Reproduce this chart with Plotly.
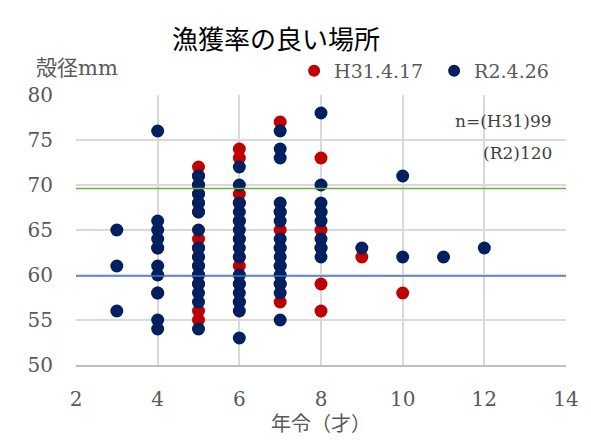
import plotly.graph_objects as go

# ---- data ----
h31_age = [4, 4,
           5, 5, 5, 5, 5, 5, 5, 5, 5, 5, 5, 5, 5, 5,
           6, 6, 6, 6, 6, 6, 6, 6, 6, 6,
           7, 7, 7, 7, 7, 7, 7,
           8, 8, 8, 8, 8, 8,
           9, 10]
h31_size = [63, 58,
            72, 71, 70, 69, 68, 67, 64, 63, 62, 61, 60, 59, 56, 55,
            74, 73, 69, 68, 66, 64, 62, 61, 59, 57,
            77, 67, 65, 63, 61, 59, 57,
            73, 67, 65, 63, 59, 56,
            62, 58]

r2_age = [3, 3, 3,
          4, 4, 4, 4, 4, 4, 4, 4, 4, 4,
          5, 5, 5, 5, 5, 5, 5, 5, 5, 5, 5, 5, 5, 5,
          6, 6, 6, 6, 6, 6, 6, 6, 6, 6, 6, 6, 6, 6, 6,
          7, 7, 7, 7, 7, 7, 7, 7, 7, 7, 7, 7, 7, 7,
          8, 8, 8, 8, 8, 8, 8, 8,
          9, 10, 10, 11, 12]
r2_size = [65, 61, 56,
           76, 66, 65, 64, 63, 61, 60, 58, 55, 54,
           71, 70, 69, 68, 67, 65, 63, 62, 61, 60, 59, 58, 57, 54,
           72, 70, 68, 67, 66, 65, 64, 63, 62, 60, 59, 58, 57, 56, 53,
           76, 74, 73, 68, 67, 66, 64, 63, 62, 61, 60, 59, 58, 55,
           78, 70, 68, 67, 66, 64, 63, 62,
           63, 71, 62, 62, 63]

series_names = ["H31.4.17", "R2.4.26"]
ref_green = 69.6
ref_blue = 59.9
x_ticks = [2, 4, 6, 8, 10, 12, 14]
y_ticks = [50, 55, 60, 65, 70, 75, 80]

title_text = "漁獲率の良い場所"
y_title = "殻径mm"
x_title = "年令（才）"
n_line1 = "n=(H31)99"
n_line2 = "(R2)120"

# ---- figure ----
FONT = "DejaVu Serif, Noto Sans CJK JP"
GRAY = "#595959"

OFF = 8  # page body offset
W, H = 591 - OFF, 443 - OFF
L, T = 76 - OFF, 95 - OFF
R, B = 23, 78
pw, ph = W - L - R, H - T - B
def px2x(p): return (p - OFF - L) / pw
def px2y(p): return (H - B - (p - OFF)) / ph

fig = go.Figure()
fig.add_trace(go.Scatter(x=h31_age, y=h31_size, mode="markers", name=series_names[0],
                         marker=dict(color="#C00000", size=13, line=dict(width=0))))
fig.add_trace(go.Scatter(x=r2_age, y=r2_size, mode="markers", name=series_names[1],
                         marker=dict(color="#002060", size=13, line=dict(width=0))))

fig.add_shape(type="line", xref="x", yref="y", x0=2, x1=14, y0=ref_green, y1=ref_green,
              line=dict(color="#70AD47", width=1.5), layer="above")
fig.add_shape(type="line", xref="x", yref="y", x0=2, x1=14, y0=ref_blue, y1=ref_blue,
              line=dict(color="#4472C4", width=1.5), layer="above")

# outer chart border (top/left visible)
fig.add_shape(type="rect", xref="paper", yref="paper",
              x0=px2x(6), x1=px2x(640), y0=px2y(480), y1=px2y(7),
              line=dict(color="#D9D9D9", width=1.5), fillcolor="rgba(0,0,0,0)", layer="below")

fig.add_annotation(text=title_text, xref="paper", yref="paper", x=px2x(277), y=px2y(40),
                   xanchor="center", yanchor="middle", showarrow=False,
                   font=dict(family=FONT, size=26, color="#000000"))
fig.add_annotation(text=y_title, xref="paper", yref="paper", x=px2x(77), y=px2y(68),
                   xanchor="center", yanchor="middle", showarrow=False,
                   font=dict(family=FONT, size=21, color=GRAY))
fig.add_annotation(text=x_title, xref="paper", yref="paper", x=px2x(322), y=px2y(424),
                   xanchor="center", yanchor="middle", showarrow=False,
                   font=dict(family=FONT, size=20, color=GRAY))
fig.add_annotation(text=n_line1, xref="paper", yref="paper", x=px2x(556), y=px2y(121),
                   xanchor="right", yanchor="middle", showarrow=False,
                   font=dict(family=FONT, size=17, color="#404040"))
fig.add_annotation(text=n_line2, xref="paper", yref="paper", x=px2x(483), y=px2y(153),
                   xanchor="left", yanchor="middle", showarrow=False,
                   font=dict(family=FONT, size=17, color="#404040"))

fig.update_layout(
    width=W, height=H,
    margin=dict(l=L, r=R, t=T, b=B, pad=0),
    paper_bgcolor="white", plot_bgcolor="white",
    font=dict(family=FONT, color=GRAY),
    showlegend=True,
    legend=dict(orientation="h", x=px2x(295), y=px2y(71), xanchor="left", yanchor="middle",
                font=dict(family=FONT, size=19, color=GRAY), bgcolor="rgba(0,0,0,0)",
                itemsizing="constant", entrywidth=95, entrywidthmode="pixels"),
)
fig.update_xaxes(range=[2, 14], tickvals=x_ticks, showgrid=True, gridcolor="#D9D9D9", gridwidth=1.5,
                 zeroline=False, showline=True, linecolor="#BFBFBF", linewidth=1.5,
                 ticks="", tickfont=dict(family=FONT, size=20, color=GRAY), ticklabelstandoff=15)
fig.update_yaxes(range=[50, 80], tickvals=y_ticks, showgrid=True, gridcolor="#D9D9D9", gridwidth=1.5,
                 zeroline=False, showline=False,
                 ticks="", tickfont=dict(family=FONT, size=20, color=GRAY), ticklabelstandoff=22)

fig.write_html("out.html")
